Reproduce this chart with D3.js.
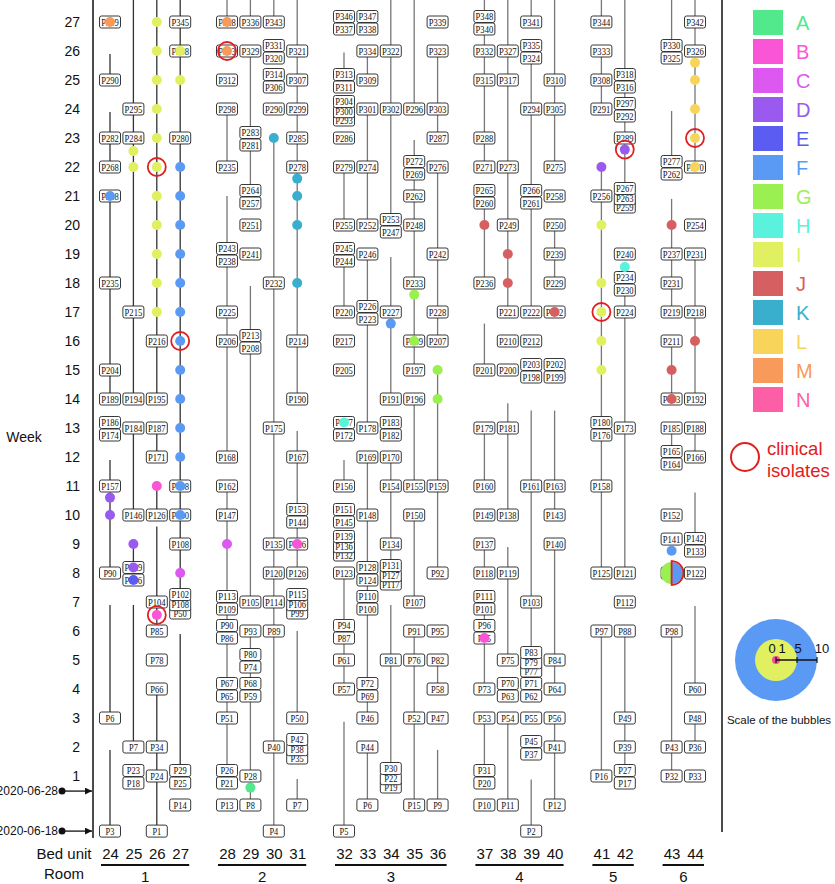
<!DOCTYPE html>
<html><head><meta charset="utf-8">
<script src="https://cdn.jsdelivr.net/npm/d3@7"></script>
<style>body{margin:0;background:#fff}svg{display:block}</style>
</head><body><svg id="c" width="835" height="884"></svg>
<script>
const bedUnits = [24,25,26,27,28,29,30,31,32,33,34,35,36,37,38,39,40,41,42,43,44];
const rooms = [[1,[24,25,26,27]],[2,[28,29,30,31]],[3,[32,33,34,35,36]],[4,[37,38,39,40]],[5,[41,42]],[6,[43,44]]];
const weekTicks = [1,2,3,4,5,6,7,8,9,10,11,12,13,14,15,16,17,18,19,20,21,22,23,24,25,26,27];
const dateMarks = [["2020-06-28",0.48],["2020-06-18",-0.9]];
const strains = ["A","B","C","D","E","F","G","H","I","J","K","L","M","N"];
const strainColors = ["#52e88c","#fa55d6","#dc58f0","#9a5af0","#5a5cf2","#5a9af5","#9af050","#5af2dc","#e0f060","#d65f62","#3aaecd","#f8d55a","#f89a5a","#fc5fa5"];
const scaleValues = [0,1,5,10];

// [bed, week, labels separated by |]
const patientLabels = [
[24,-0.9,"P3"],[24,3,"P6"],[24,8,"P90"],[24,11,"P157"],[24,13,"P186|P174"],[24,14,"P189"],[24,15,"P204"],[24,18,"P235"],[24,21,"P248"],[24,22,"P268"],[24,23,"P282"],[24,25,"P290"],[24,27,"P319"],
[25,1,"P23|P18"],[25,2,"P7"],[25,8,"P129|P116"],[25,10,"P146"],[25,13,"P184"],[25,14,"P194"],[25,17,"P215"],[25,23,"P284"],[25,24,"P295"],
[26,-0.9,"P1"],[26,1,"P24"],[26,2,"P34"],[26,4,"P66"],[26,5,"P78"],[26,6,"P85"],[26,7,"P104"],[26,10,"P126"],[26,12,"P171"],[26,13,"P187"],[26,14,"P195"],[26,16,"P216"],
[27,0,"P14"],[27,1,"P29|P25"],[27,7,"P102|P108|P50"],[27,9,"P108"],[27,10,"P130"],[27,11,"P108"],[27,23,"P280"],[27,26,"P298"],[27,27,"P345"],
[28,0,"P13"],[28,1,"P26|P21"],[28,3,"P51"],[28,4,"P67|P65"],[28,6,"P90|P86"],[28,7,"P113|P109"],[28,10,"P147"],[28,11,"P162"],[28,12,"P168"],[28,16,"P206"],[28,17,"P225"],[28,19,"P243|P238"],[28,22,"P235"],[28,24,"P298"],[28,25,"P312"],[28,26,"P313"],[28,27,"P328"],
[29,0,"P8"],[29,1,"P28"],[29,4,"P68|P59"],[29,5,"P80|P74"],[29,6,"P93"],[29,7,"P105"],[29,16,"P213|P208"],[29,19,"P241"],[29,20,"P251"],[29,21,"P264|P257"],[29,23,"P283|P281"],[29,26,"P329"],[29,27,"P336"],
[30,-0.9,"P4"],[30,2,"P40"],[30,6,"P89"],[30,7,"P114"],[30,8,"P120"],[30,9,"P135"],[30,13,"P175"],[30,18,"P232"],[30,24,"P290"],[30,25,"P314|P306"],[30,26,"P331|P320"],[30,27,"P343"],
[31,0,"P7"],[31,2,"P42|P38|P35"],[31,3,"P50"],[31,7,"P115|P106|P99"],[31,8,"P126"],[31,9,"P126"],[31,10,"P153|P144"],[31,12,"P167"],[31,14,"P190"],[31,16,"P214"],[31,22,"P278"],[31,23,"P285"],[31,24,"P299"],[31,25,"P307"],[31,26,"P321"],
[32,-0.9,"P5"],[32,4,"P57"],[32,5,"P61"],[32,6,"P94|P87"],[32,8,"P123"],[32,9,"P139|P136|P132"],[32,10,"P151|P145"],[32,11,"P156"],[32,13,"P177|P172"],[32,15,"P205"],[32,16,"P217"],[32,17,"P220"],[32,19,"P245|P244"],[32,20,"P255"],[32,22,"P279"],[32,23,"P286"],[32,24,"P304|P300|P293"],[32,25,"P313|P311"],[32,27,"P346|P337"],
[33,0,"P6"],[33,2,"P44"],[33,3,"P46"],[33,4,"P72|P69"],[33,7,"P110|P100"],[33,8,"P128|P124"],[33,10,"P148"],[33,12,"P169"],[33,13,"P178"],[33,17,"P226|P223"],[33,19,"P246"],[33,20,"P252"],[33,22,"P274"],[33,24,"P301"],[33,25,"P309"],[33,26,"P334"],[33,27,"P347|P338"],
[34,1,"P30|P22|P19"],[34,5,"P81"],[34,8,"P131|P127|P117"],[34,9,"P134"],[34,11,"P154"],[34,12,"P170"],[34,13,"P183|P182"],[34,14,"P191"],[34,17,"P227"],[34,20,"P253|P247"],[34,24,"P302"],[34,26,"P322"],
[35,0,"P15"],[35,3,"P52"],[35,5,"P76"],[35,6,"P91"],[35,7,"P107"],[35,10,"P150"],[35,11,"P155"],[35,14,"P196"],[35,15,"P197"],[35,16,"P209"],[35,18,"P233"],[35,20,"P248"],[35,21,"P262"],[35,22,"P272|P269"],[35,24,"P296"],
[36,0,"P9"],[36,3,"P47"],[36,4,"P58"],[36,5,"P82"],[36,6,"P95"],[36,8,"P92"],[36,11,"P159"],[36,16,"P207"],[36,17,"P228"],[36,19,"P242"],[36,22,"P276"],[36,23,"P287"],[36,24,"P303"],[36,26,"P323"],[36,27,"P339"],
[37,0,"P10"],[37,1,"P31|P20"],[37,3,"P53"],[37,4,"P73"],[37,6,"P96|P85"],[37,7,"P111|P101"],[37,8,"P118"],[37,9,"P137"],[37,10,"P149"],[37,11,"P160"],[37,13,"P179"],[37,15,"P201"],[37,18,"P236"],[37,21,"P265|P260"],[37,22,"P271"],[37,23,"P288"],[37,25,"P315"],[37,26,"P332"],[37,27,"P348|P340"],
[38,0,"P11"],[38,3,"P54"],[38,4,"P70|P63"],[38,5,"P75"],[38,8,"P119"],[38,10,"P138"],[38,13,"P181"],[38,15,"P200"],[38,16,"P210"],[38,17,"P221"],[38,20,"P249"],[38,22,"P273"],[38,25,"P317"],[38,26,"P327"],
[39,-0.9,"P2"],[39,2,"P45|P37"],[39,3,"P55"],[39,4,"P71|P62"],[39,5,"P83|P79|P77"],[39,7,"P103"],[39,11,"P161"],[39,15,"P203|P198"],[39,16,"P212"],[39,17,"P222"],[39,21,"P266|P261"],[39,24,"P294"],[39,26,"P335|P324"],[39,27,"P341"],
[40,0,"P12"],[40,2,"P41"],[40,3,"P56"],[40,4,"P64"],[40,5,"P84"],[40,9,"P140"],[40,10,"P143"],[40,11,"P163"],[40,15,"P202|P199"],[40,17,"P192"],[40,18,"P229"],[40,19,"P239"],[40,20,"P250"],[40,21,"P258"],[40,22,"P275"],[40,24,"P305"],[40,25,"P310"],
[41,1,"P16"],[41,6,"P97"],[41,8,"P125"],[41,11,"P158"],[41,13,"P180|P176"],[41,21,"P256"],[41,24,"P291"],[41,25,"P308"],[41,26,"P333"],[41,27,"P344"],
[42,1,"P27|P17"],[42,2,"P39"],[42,3,"P49"],[42,6,"P88"],[42,7,"P112"],[42,8,"P121"],[42,13,"P173"],[42,17,"P224"],[42,18,"P234|P230"],[42,19,"P240"],[42,21,"P267|P263|P259"],[42,23,"P289"],[42,24,"P297|P292"],[42,25,"P318|P316"],
[43,1,"P32"],[43,2,"P43"],[43,6,"P98"],[43,8,"P130"],[43,9.17,"P141"],[43,10,"P152"],[43,12,"P165|P164"],[43,13,"P185"],[43,14,"P193"],[43,16,"P211"],[43,17,"P219"],[43,18,"P231"],[43,19,"P237"],[43,22,"P277|P262"],[43,26,"P330|P325"],
[44,1,"P33"],[44,2,"P36"],[44,3,"P48"],[44,4,"P60"],[44,8,"P122"],[44,9,"P142|P133"],[44,12,"P166"],[44,13,"P188"],[44,14,"P192"],[44,17,"P218"],[44,19,"P231"],[44,20,"P254"],[44,22,"P270"],[44,26,"P326"],[44,27,"P342"]
];

// [bed, from week, to week]
const stays = [
[24,-0.9,1.9],[24,3,6.9],[24,8,11.9],[24,14,21],[24,22,23.9],[24,25,25.9],
[25,2,6.9],[25,8,9],[25,10,13],[25,14,27.8],
[26,-0.9,4],[26,6,9.6],[26,10,11],[26,12,13],[26,14,27.8],
[27,1,5.9],[27,7,27.8],
[28,1,11],[28,12,21],[28,22,24],[28,27,27.8],
[29,0,6],[29,7,17.9],[29,21,26],[29,27,27.8],
[30,-0.9,23],[30,27,27.8],
[31,0,0.9],[31,3,6],[31,8,12.9],[31,14,27.8],
[32,-0.9,2.87],[32,4,8],[32,11,11.9],[32,17,19],[32,20,22],[32,25,25.95],
[33,0,2],[33,3,12],[33,13,19],[33,20,24],[33,25,26],
[34,1,6.9],[34,8,12],[34,14,18.9],[34,20,27.8],
[35,0,6],[35,7,10],[35,11,14],[35,15,22.93],[35,24,27.8],
[36,0,1.9],[36,4,5],[36,8,15],[36,16,22],[36,23,26],
[37,1,3],[37,4,7],[37,8,9],[37,11,13],[37,15,16.6],[37,18,21],[37,22,27.8],
[38,0,3],[38,5,8.9],[38,10,13.85],[38,17,27.8],
[39,-0.9,0.88],[39,4,13.6],[39,17,26],[39,27,27.8],
[40,0,3],[40,4,9],[40,10,13.6],[40,18,20],[40,22,27.8],
[41,1,6],[41,8,22],[41,24,26],[41,27,27.8],
[42,1,6],[42,8,18],[42,21,27.8],
[43,1,6],[43,12,13],[43,14,16],[43,17,20.9],[43,22,23.93],[43,26,27.8],
[44,2,3],[44,4,6.86],[44,9,10.78],[44,12,13],[44,14,19],[44,22,27.8]
];

// [bed, week, strain, clinical isolate]
const bubbles = [
[24,10,"D",0],[24,10.6,"D",0],[24,21,"F",0],[24,27,"M",0],
[25,8.19,"D",0],[25,7.76,"E",0],[25,9,"D",0],[25,22,"I",0],[25,22.55,"I",0],
[26,6.55,"B",1],[26,11,"B",0],[26,17,"I",0],[26,18,"I",0],[26,19,"I",0],[26,20,"I",0],[26,21,"I",0],[26,22,"I",1],[26,23,"I",0],[26,24,"I",0],[26,25,"I",0],[26,26,"I",0],[26,27,"I",0],
[27,8,"C",0],[27,10,"F",0],[27,11,"F",0],[27,12,"F",0],[27,13,"F",0],[27,14,"F",0],[27,15,"F",0],[27,16,"F",1],[27,17,"F",0],[27,18,"F",0],[27,19,"F",0],[27,20,"F",0],[27,21,"F",0],[27,22,"F",0],[27,25,"I",0],[27,26,"I",0],
[28,9,"C",0],[28,26,"M",1],[28,27,"M",0],
[29,0.6,"A",0],
[30,23,"K",0],
[31,9,"B",0],[31,18,"K",0],[31,20,"K",0],[31,21,"K",0],[31,21.6,"K",0],
[32,13.19,"H",0],
[34,16.6,"F",0],
[35,16,"G",0],[35,17.6,"G",0],
[36,14,"G",0],[36,15,"G",0],
[37,5.76,"B",0],[37,20,"J",0],
[38,18,"J",0],[38,19,"J",0],
[40,17,"J",0],
[41,15,"I",0],[41,16,"I",0],[41,17,"I",1],[41,18,"I",0],[41,20,"I",0],[41,22,"D",0],
[42,18.55,"H",0],[42,22.6,"D",1],
[43,8.77,"F",0],[43,14,"J",0],[43,15,"J",0],[43,20,"J",0],
[44,16,"J",0],[44,22,"L",0],[44,23,"L",1],[44,24,"L",0],[44,25,"L",0],[44,25.6,"L",0]
];
// [bed, week, strains, clinical flags]  (mixed bubble)
const splitBubbles = [[43,8,["G","F"],[0,1]]];

const svg = d3.select("#c");
const FONT = "'Liberation Sans', Arial, sans-serif";
const SERIF = "'Liberation Serif', 'Times New Roman', serif";
const color = d3.scaleOrdinal().domain(strains).range(strainColors);

const slotDomain = [];
rooms.forEach((r,i)=>{ if(i>0) slotDomain.push("gap"+i); r[1].forEach(b=>slotDomain.push(String(b))); });
const x = d3.scalePoint().domain(slotDomain).range([110, 695]);
const bx = b => x(String(b));
const y = d3.scaleLinear().domain([0, 27]).range([805, 22]);

// axis line
svg.append("line").attr("x1",93).attr("x2",93).attr("y1",0).attr("y2",838).attr("stroke","#111").attr("stroke-width",1.5);
// right separator
svg.append("line").attr("x1",722).attr("x2",722).attr("y1",0).attr("y2",832).attr("stroke","#111").attr("stroke-width",1.5);

// week axis
const ya = svg.append("g").attr("transform","translate(93,0)")
  .call(d3.axisLeft(y).tickValues(weekTicks).tickSize(0).tickPadding(13).tickFormat(d3.format("d")));
ya.select(".domain").remove();
ya.selectAll("text").attr("font-family",FONT).attr("font-size",14).attr("fill","#111");
svg.append("text").attr("x",24).attr("y",442).attr("text-anchor","middle").attr("font-family",FONT).attr("font-size",14).attr("fill","#111").text("Week");

// date markers
const defs = svg.append("defs");
defs.append("marker").attr("id","arr").attr("viewBox","0 0 10 10").attr("refX",10).attr("refY",5)
  .attr("markerUnits","userSpaceOnUse").attr("markerWidth",10).attr("markerHeight",7).attr("orient","auto")
  .append("path").attr("d","M0,0L10,5L0,10z").attr("fill","#111");
dateMarks.forEach(([lab, wk])=>{
  const yy = y(wk);
  svg.append("line").attr("x1",62).attr("x2",92).attr("y1",yy).attr("y2",yy).attr("stroke","#111").attr("stroke-width",1.3).attr("marker-end","url(#arr)");
  svg.append("circle").attr("cx",62).attr("cy",yy).attr("r",3.5).attr("fill","#111");
  svg.append("text").attr("x",58).attr("y",yy+4).attr("text-anchor","end").attr("font-family",FONT).attr("font-size",12).attr("fill","#111").text(lab);
});

// stays
svg.append("g").selectAll("line").data(stays).join("line")
  .attr("x1",d=>bx(d[0])).attr("x2",d=>bx(d[0]))
  .attr("y1",d=>y(d[1])).attr("y2",d=>y(d[2]))
  .attr("stroke",d=>d[0]<=27?"#333":"#777").attr("stroke-width",1.3);

// labels
const lg = svg.append("g");
patientLabels.forEach(([bed, wk, txt])=>{
  const names = txt.split("|");
  const offs = names.length===1?[0]:names.length===2?[-5.5,7]:[-7.5,2.7,11];
  for (let i=names.length-1;i>=0;i--){
    const cx = bx(bed), cy = y(wk)+offs[i];
    lg.append("rect").attr("x",cx-10.5).attr("y",cy-6).attr("width",21).attr("height",12).attr("rx",2)
      .attr("fill","#fff").attr("stroke","#222").attr("stroke-width",0.9);
    lg.append("text").attr("x",cx).attr("y",cy+3.6).attr("text-anchor","middle")
      .attr("font-family",SERIF).attr("font-size",10.5).attr("fill","#111")
      .attr("textLength",names[i].length*4.4).attr("lengthAdjust","spacingAndGlyphs").text(names[i]);
  }
});

// bubbles
svg.append("g").selectAll("circle").data(bubbles).join("circle")
  .attr("cx",d=>bx(d[0])).attr("cy",d=>y(d[1])).attr("r",5).attr("fill",d=>color(d[2]));
svg.append("g").selectAll("circle").data(bubbles.filter(d=>d[3])).join("circle")
  .attr("cx",d=>bx(d[0])).attr("cy",d=>y(d[1])).attr("r",9).attr("fill","none").attr("stroke","#e02020").attr("stroke-width",1.8);

// split bubble (left half / right half)
splitBubbles.forEach(([bed, wk, sts, cl])=>{
  const g = svg.append("g").attr("transform",`translate(${bx(bed)},${y(wk)})`);
  const n = sts.length;
  sts.forEach((s,i)=>{
    const a0 = -Math.PI + i*2*Math.PI/n, a1 = -Math.PI + (i+1)*2*Math.PI/n;
    g.append("path").attr("d",d3.arc()({innerRadius:0,outerRadius:11,startAngle:a0,endAngle:a1})).attr("fill",color(s));
    if (cl[i]) {
      g.append("path").attr("d",d3.arc()({innerRadius:11,outerRadius:12.8,startAngle:a0,endAngle:a1})).attr("fill","#e02020");
      g.append("line").attr("x1",0).attr("x2",0).attr("y1",-12.8).attr("y2",12.8).attr("stroke","#e02020").attr("stroke-width",1.8);
    }
  });
});

// bed numbers
const xa = svg.append("g").attr("transform","translate(0,840)")
  .call(d3.axisBottom(x).tickValues(bedUnits.map(String)).tickSize(0).tickPadding(8));
xa.select(".domain").remove();
xa.selectAll("text").attr("font-family",FONT).attr("font-size",15).attr("fill","#111");
svg.append("text").attr("x",64).attr("y",859).attr("text-anchor","middle").attr("font-family",FONT).attr("font-size",15).attr("fill","#111").text("Bed unit");
svg.append("text").attr("x",64).attr("y",879).attr("text-anchor","middle").attr("font-family",FONT).attr("font-size",15).attr("fill","#111").text("Room");
rooms.forEach(([rm, bs])=>{
  const x0 = bx(bs[0])-9, x1 = bx(bs[bs.length-1])+9;
  svg.append("line").attr("x1",x0).attr("x2",x1).attr("y1",865).attr("y2",865).attr("stroke","#111").attr("stroke-width",2);
  svg.append("text").attr("x",(x0+x1)/2).attr("y",881.5).attr("text-anchor","middle").attr("font-family",FONT).attr("font-size",15).attr("fill","#111").text(rm);
});

// legend
const leg = svg.append("g");
strains.forEach((s,i)=>{
  leg.append("rect").attr("x",753).attr("y",10+i*29).attr("width",30).attr("height",25).attr("fill",color(s));
  leg.append("text").attr("x",796).attr("y",10+i*29+19.5).attr("font-family",FONT).attr("font-size",20).attr("fill",color(s)).text(s);
});
leg.append("circle").attr("cx",745).attr("cy",457).attr("r",14).attr("fill","none").attr("stroke","#e02020").attr("stroke-width",2);
leg.append("text").attr("x",767).attr("y",455).attr("font-family",FONT).attr("font-size",18.5).attr("fill","#e02020").text("clinical");
leg.append("text").attr("x",767).attr("y",477).attr("font-family",FONT).attr("font-size",18.5).attr("fill","#e02020").text("isolates");

// bubble scale
const sr = d3.scaleLinear().domain([0,5,10]).range([0,21,41]);
const scx = 776, scy = 660;
[10,5].forEach(v=>{
  leg.append("circle").attr("cx",scx).attr("cy",scy).attr("r",sr(v)).attr("fill",v===10?color("F"):color("I"));
});
leg.append("circle").attr("cx",scx).attr("cy",scy).attr("r",4).attr("fill","#f0509a");
leg.append("line").attr("x1",scx).attr("x2",scx+sr(10)).attr("y1",scy).attr("y2",scy).attr("stroke","#111").attr("stroke-width",1.3);
[0,5,10].forEach(v=>{
  leg.append("line").attr("x1",scx+sr(v)).attr("x2",scx+sr(v)).attr("y1",scy-3).attr("y2",scy+3).attr("stroke","#111").attr("stroke-width",1.2);
});
const scaleLabelX = [772,782,798,822];
scaleValues.forEach((v,i)=>{
  leg.append("text").attr("x",scaleLabelX[i]).attr("y",653).attr("text-anchor","middle").attr("font-family",FONT).attr("font-size",13).attr("fill","#111").text(v);
});
leg.append("text").attr("x",779).attr("y",724).attr("text-anchor","middle").attr("font-family",FONT).attr("font-size",11.5).attr("fill","#111").text("Scale of the bubbles");
</script></body></html>
